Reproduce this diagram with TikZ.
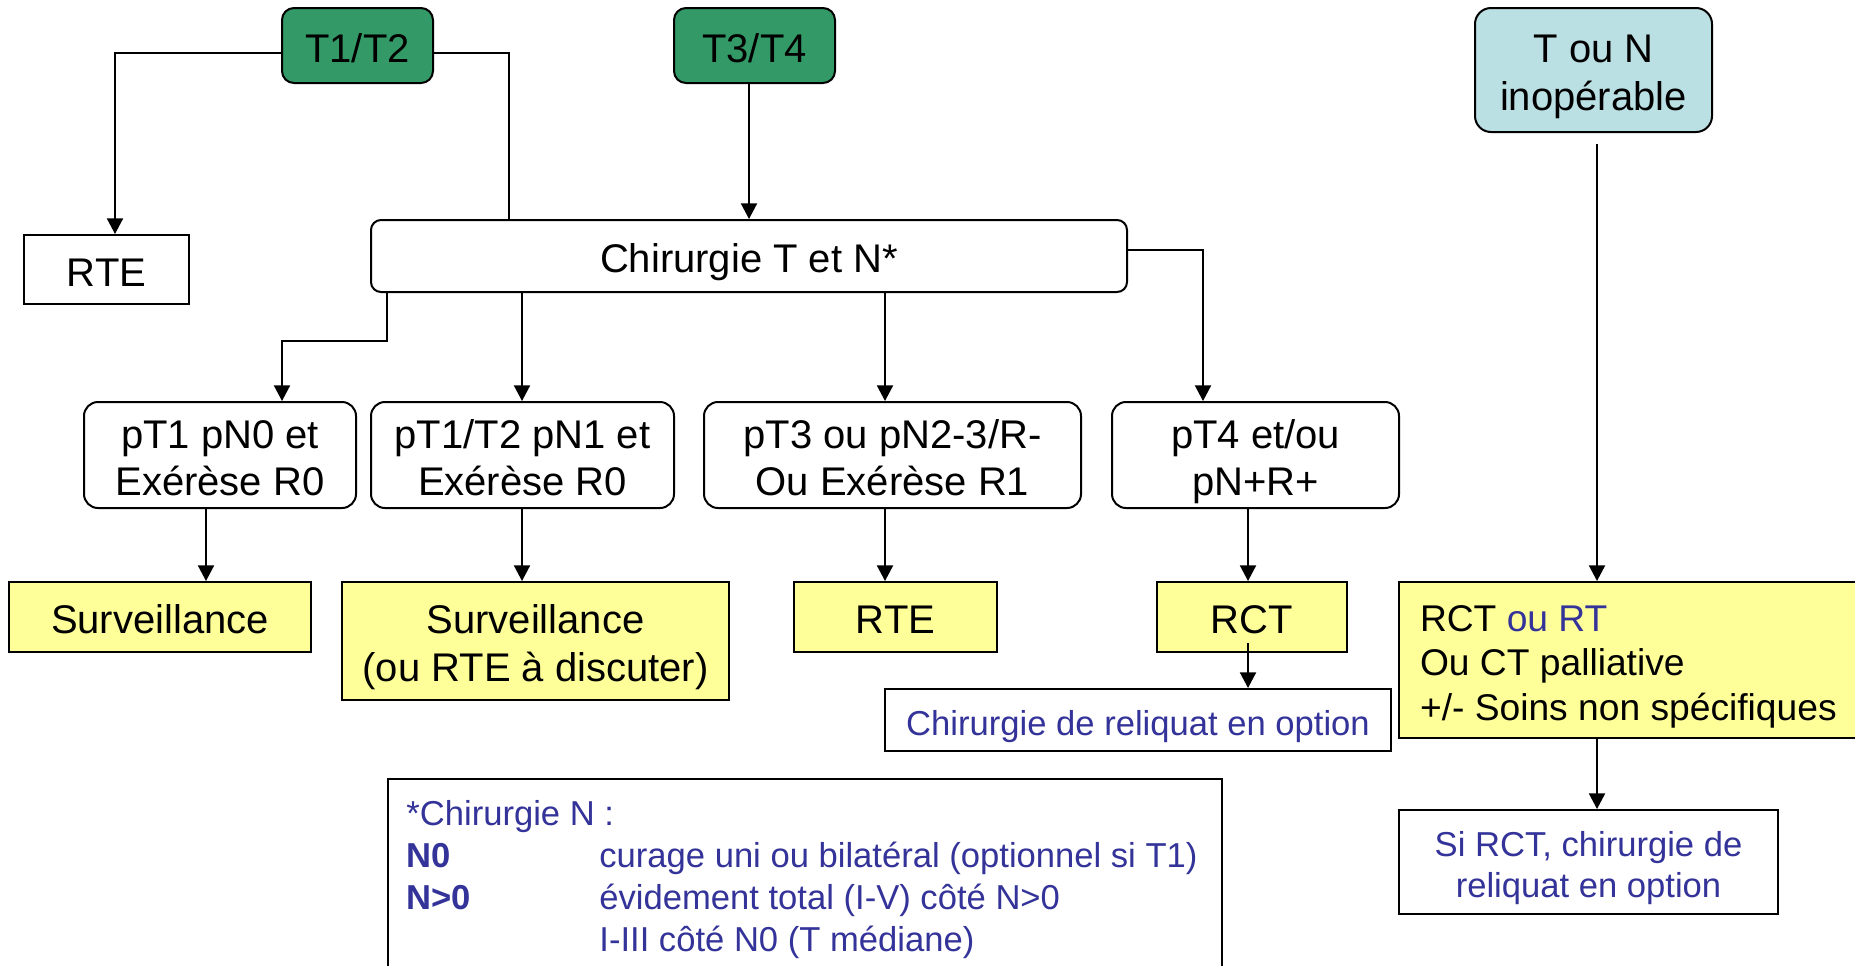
\documentclass[tikz,border=0pt]{standalone}
\usepackage{fontspec}
\setmainfont{Liberation Sans}
\usetikzlibrary{arrows.meta,calc}
\definecolor{boxgreen}{RGB}{51,153,102}
\definecolor{boxcyan}{RGB}{187,224,228}
\definecolor{boxyellow}{RGB}{255,255,153}
\definecolor{noteblue}{RGB}{51,51,153}
% stacked lines whose baseline is the last line
\newcommand{\clines}[1]{\begin{tabular}[b]{@{}c@{}}#1\end{tabular}}
\newcommand{\plines}[2]{\begin{tabular}[b]{@{}p{#1}@{}}#2\end{tabular}}

\begin{document}
\begin{tikzpicture}[x=0.5pt,y=-0.5pt,
  every node/.style={inner sep=0pt,text depth=0pt},
  basebox/.style={draw=black,line width=1pt,font=\fontsize{20}{23.5}\selectfont,text height=16.9pt},
  twoline/.style={text height=40.4pt},
  greenbox/.style={basebox,rounded corners=6pt,fill=boxgreen},
  cyanbox/.style={basebox,rounded corners=8pt,fill=boxcyan,font=\fontsize{20}{24}\selectfont,text height=40.9pt},
  roundbox/.style={basebox,rounded corners=7pt,fill=white},
  plainbox/.style={basebox,fill=white},
  yellowbox/.style={basebox,fill=boxyellow},
  notebox/.style={basebox,fill=white,text=noteblue,font=\fontsize{17.3}{20.8}\selectfont,text height=15pt},
  conn/.style={draw=black,line width=0.9pt},
  arr/.style={conn,-{Triangle[length=7.8pt,width=8pt]}}
]
\useasboundingbox (0,0) rectangle (1855,965);

% top row
\node[greenbox,minimum width=75.5pt,minimum height=37.5pt] (t12) at (357.5,45.5) {T1/T2};
\node[greenbox,minimum width=80.5pt,minimum height=37.5pt] (t34) at (754.5,45.5) {T3/T4};
\node[cyanbox,minimum width=118.5pt,minimum height=62pt] (tn) at (1593.5,70) {\clines{T ou N\\inopérable}};

% surgery level
\node[plainbox,minimum width=82.5pt,minimum height=34.5pt] (rte0) at (106.5,269.5) {RTE};
\node[roundbox,rounded corners=5pt,minimum width=378pt,minimum height=36pt] (chir) at (749,256) {Chirurgie T et N*};

% pathology results
\node[roundbox,twoline,minimum width=136pt,minimum height=53pt] (p1) at (220,455) {\clines{pT1 pN0 et\\Exérèse R0}};
\node[roundbox,twoline,minimum width=151.5pt,minimum height=53pt] (p2) at (522.5,455) {\clines{pT1/T2 pN1 et\\Exérèse R0}};
\node[roundbox,twoline,minimum width=188.5pt,minimum height=53pt] (p3) at (892.5,455) {\clines{pT3 ou pN2-3/R-\\Ou Exérèse R1}};
\node[roundbox,twoline,minimum width=143.5pt,minimum height=53pt] (p4) at (1255.5,455) {\clines{pT4 et/ou\\pN+R+}};

% adjuvant treatment
\node[yellowbox,minimum width=151pt,minimum height=35pt] (s1) at (160,617) {Surveillance};
\node[yellowbox,minimum width=193.5pt,minimum height=59pt,font=\fontsize{20}{24}\selectfont,text height=40.9pt] (s2) at (535.5,641)
  {\clines{Surveillance\\(ou RTE à discuter)}};
\node[yellowbox,minimum width=101.5pt,minimum height=35pt] (rte) at (895.5,617) {RTE};
\node[yellowbox,minimum width=95pt,minimum height=35pt] (rct) at (1252,617) {RCT};
\node[yellowbox,inner xsep=10.5pt,minimum height=78pt,font=\fontsize{18.6}{22.3}\selectfont,text height=60.5pt] (big) at (1637,660)
  {\plines{217pt}{RCT \textcolor{noteblue}{ou RT}\\Ou CT palliative\\+/- Soins non spécifiques}};

% options
\node[notebox,minimum width=253pt,minimum height=31pt] (note) at (1138,720) {Chirurgie de reliquat en option};
\node[notebox,minimum width=189.5pt,minimum height=52pt,text height=35.8pt] (si) at (1588.5,862)
  {\clines{Si RCT, chirurgie de\\reliquat en option}};

% footnote frame and text
\node[plainbox,anchor=north west,minimum width=417pt,minimum height=111pt] (leg) at (387,778) {};
\node[anchor=base west,text=noteblue,text depth=,font=\fontsize{17.3}{21}\selectfont] (legtxt) at (406,825)
  {\begin{tabular}[t]{@{}p{96.5pt}@{}l@{}}
   \multicolumn{2}{@{}l@{}}{*Chirurgie N :}\\
   \textbf{N0} & curage uni ou bilatéral (optionnel si T1)\\
   \textbf{N>0} & évidement total (I-V) côté N>0\\
   & I-III côté N0 (T médiane)
   \end{tabular}};

% connector bends and start points
\coordinate (a1) at (115,53);
\coordinate (a2) at (509,53);
\coordinate (a3) at (749,0);
\coordinate (a4) at (1203,250);
\coordinate (a5) at (387,341);
\coordinate (a6) at (282,341);
\coordinate (a7) at (885,0);
\coordinate (a8) at (206,0);
\coordinate (a9) at (1248,0);
\coordinate (a10) at (1248,643);
\coordinate (a11) at (1597,144);
\coordinate (a12) at (522,0);

% connectors
\draw[arr] (t12.west |- a1) -| (a1 |- rte0.north);
\draw[conn] (t12.east |- a2) -| (a2 |- chir.north);
\draw[arr] (a3 |- t34.south) -- (a3 |- chir.north);
\draw[arr] (chir.east |- a4) -| (a4 |- p4.north);
\draw[arr] (a5 |- chir.south) -- (a5) -- (a6) -- (a6 |- p1.north);
\draw[arr] (a12 |- chir.south) -- (a12 |- p2.north);
\draw[arr] (a7 |- chir.south) -- (a7 |- p3.north);
\draw[arr] (a8 |- p1.south) -- (a8 |- s1.north);
\draw[arr] (a12 |- p2.south) -- (a12 |- s2.north);
\draw[arr] (a7 |- p3.south) -- (a7 |- rte.north);
\draw[arr] (a9 |- p4.south) -- (a9 |- rct.north);
\draw[arr] (a10) -- (a10 |- note.north);
\draw[arr] (a11) -- (a11 |- big.north);
\draw[arr] (a11 |- big.south) -- (a11 |- si.north);
\end{tikzpicture}
\end{document}
